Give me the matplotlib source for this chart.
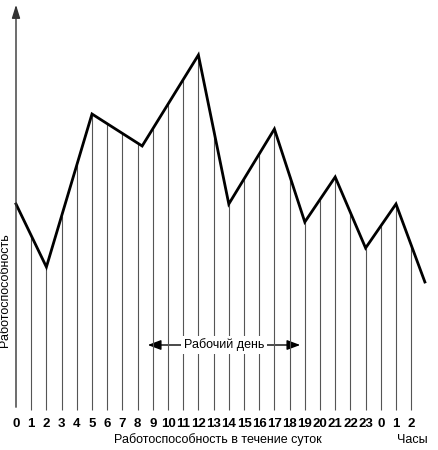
import numpy as np
import matplotlib.pyplot as plt
from matplotlib.patches import FancyArrowPatch

plt.rcParams['font.family'] = ['Liberation Sans', 'DejaVu Sans']

# Вершины кривой работоспособности (позиция часа, уровень)
peak_x = [0, 2, 5, 8.3, 12, 14, 17, 19, 21, 23, 25, 26.9]
peak_y = [206, 143, 296, 264, 355, 206, 281, 188, 233, 162, 206, 128]
hour_labels = [str(h) for h in range(24)] + ["0", "1", "2"]

X0, DX = 16, 15.2  # пиксели
fig = plt.figure(figsize=(4.38, 4.5), dpi=100)
ax = fig.add_axes([0, 0, 1, 1])
ax.set_xlim(-X0 / DX, (438 - X0) / DX)
ax.set_ylim(-40, 410)
ax.axis("off")

ticks = np.arange(len(hour_labels))
levels = np.interp(ticks, peak_x, peak_y)
ax.vlines(ticks[1:], 0, levels[1:], color="#555555", lw=0.8)
ax.plot(peak_x, peak_y, color="black", lw=2, solid_joinstyle="miter")

# оси со стрелками
ax.annotate("", xy=(27.8, 0), xytext=(0, 0),
            arrowprops=dict(arrowstyle="-|>,head_width=0.25,head_length=0.8", color="#333333", lw=1))
ax.annotate("", xy=(0, 408), xytext=(0, 0),
            arrowprops=dict(arrowstyle="-|>,head_width=0.25,head_length=0.8", color="#333333", lw=1))

for t, lab in zip(ticks, hour_labels):
    ax.text(t, -14, lab, ha="center", va="center", fontsize=9.5, fontweight="bold")

ax.text((218 - X0) / DX, -30, "Работоспособность в течение суток", ha="center", va="center", fontsize=9)
ax.text((412 - X0) / DX, -30, "Часы", ha="center", va="center", fontsize=9)
ax.text(-0.7, 120, "Работоспособность", rotation=90, ha="center", va="center", fontsize=9)

# Рабочий день
ax.add_patch(FancyArrowPatch(((145 - X0) / DX, 65), ((303 - X0) / DX, 65),
                             arrowstyle="<|-|>,head_width=3,head_length=8", color="black", lw=1,
                             mutation_scale=1))
ax.text((224 - X0) / DX, 65, "Рабочий день", ha="center", va="center", fontsize=9,
        bbox=dict(facecolor="white", edgecolor="none", pad=2))

fig.savefig("out.png", dpi=100)
